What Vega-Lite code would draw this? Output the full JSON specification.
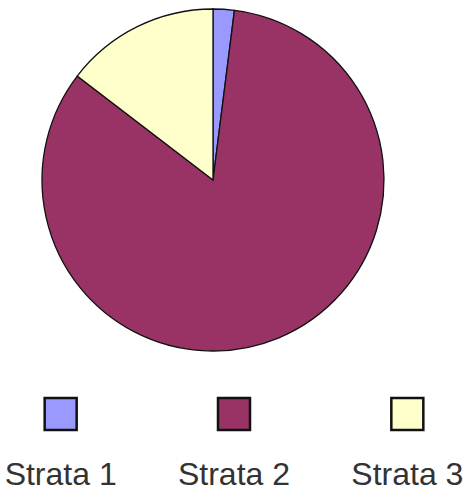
{
  "$schema": "https://vega.github.io/schema/vega-lite/v6.json",
  "padding": 0,
  "spacing": 0,
  "background": "white",
  "config": {"view": {"stroke": null}, "concat": {"spacing": 0}},
  "data": {"values": [
    {"strata": "Strata 1", "value": 2.0},
    {"strata": "Strata 2", "value": 83.4},
    {"strata": "Strata 3", "value": 14.6}
  ]},
  "vconcat": [
    {
      "width": 426,
      "height": 360,
      "mark": {"type": "arc", "outerRadius": 171, "stroke": "#111111", "strokeWidth": 1.3},
      "encoding": {
        "theta": {"field": "value", "type": "quantitative", "stack": true},
        "order": {"field": "strata", "sort": "ascending"},
        "color": {
          "field": "strata", "type": "nominal", "legend": null,
          "scale": {"domain": ["Strata 1", "Strata 2", "Strata 3"], "range": ["#9999ff", "#993366", "#ffffcc"]}
        }
      }
    },
    {
      "width": 468,
      "height": 131,
      "encoding": {
        "x": {"field": "strata", "type": "ordinal", "axis": null, "scale": {"type": "point", "padding": 0.35}}
      },
      "layer": [
        {
          "mark": {"type": "point", "shape": "square", "filled": true, "size": 1024, "stroke": "#111111", "strokeWidth": 2.5, "opacity": 1},
          "encoding": {
            "y": {"datum": "symbol", "type": "nominal", "axis": null, "scale": {"type": "point", "padding": 0, "domain": ["symbol", "label"], "range": [54, 125]}},
            "color": {
              "field": "strata", "type": "nominal", "legend": null,
              "scale": {"domain": ["Strata 1", "Strata 2", "Strata 3"], "range": ["#9999ff", "#993366", "#ffffcc"]}
            }
          }
        },
        {
          "mark": {"type": "text", "font": "Liberation Sans, Arial", "fontSize": 32, "baseline": "alphabetic", "align": "center", "color": "#333333"},
          "encoding": {
            "y": {"datum": "label", "type": "nominal"},
            "text": {"field": "strata"}
          }
        }
      ]
    }
  ]
}
